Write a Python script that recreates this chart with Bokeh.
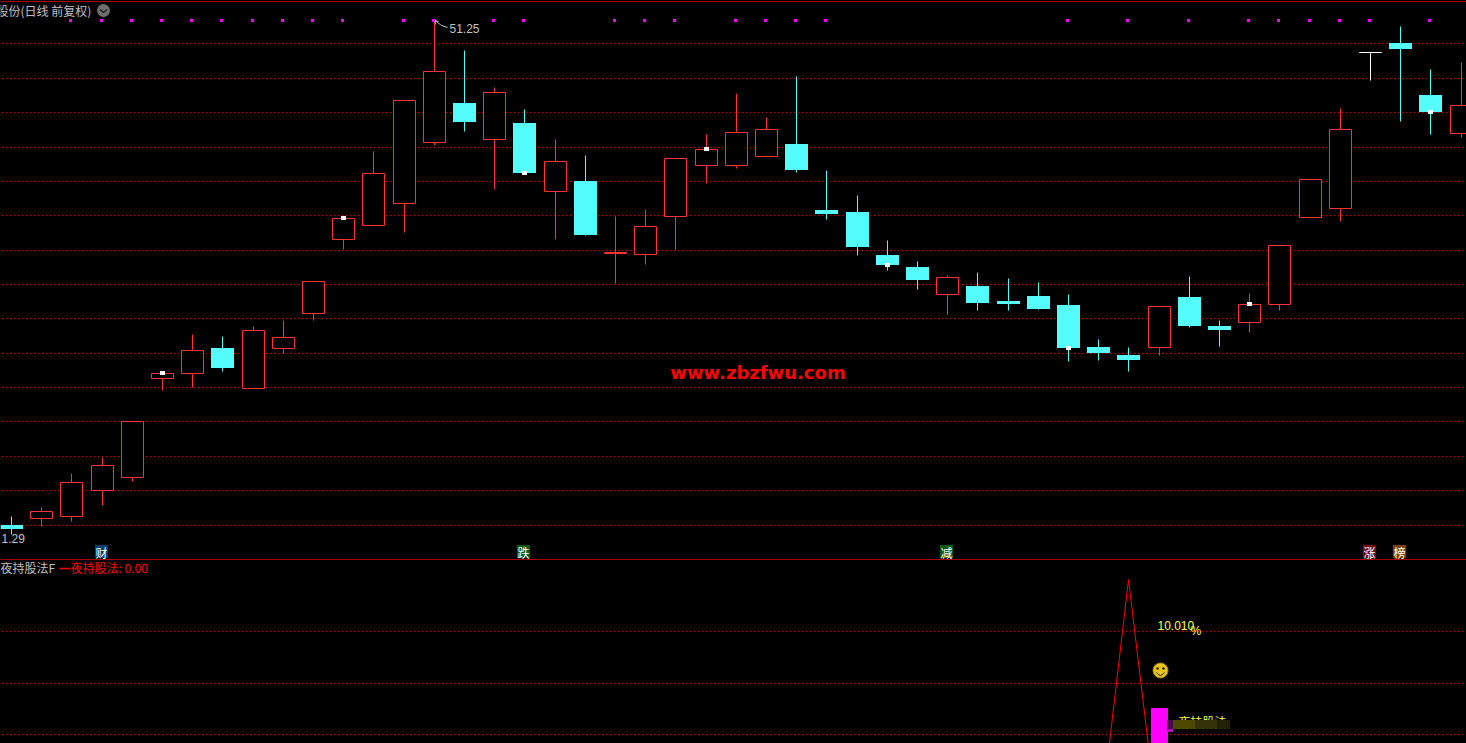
from math import floor
from bokeh.plotting import figure
from bokeh.layouts import column
from bokeh.models import Range1d
from bokeh.core.properties import value
from bokeh.embed import file_html
from bokeh.resources import INLINE

# ---- daily candles (price) ----
highs = [31.99,32.34,33.66,34.30,35.68,37.55,39.06,38.98,39.37,39.60,41.12,43.57,46.17,48.15,51.25,50.09,48.64,47.80,46.63,46.01,
         43.64,43.92,45.90,46.83,48.42,47.49,49.08,45.43,44.46,42.71,41.90,41.35,41.47,41.24,41.08,40.61,38.87,38.56,40.15,41.31,
         39.60,40.65,42.52,45.08,47.84,50.01,51.02,49.35,49.62]
lows = [31.29,31.61,31.81,32.42,33.36,36.90,37.01,37.64,36.96,38.33,39.62,42.36,43.29,43.03,46.40,46.96,44.69,45.31,42.75,42.91,
        41.04,41.78,42.36,44.92,45.52,45.97,45.35,43.53,42.13,41.55,40.81,39.84,39.99,39.99,40.03,38.01,38.05,37.62,38.25,39.33,
        38.60,39.14,39.99,43.60,43.45,48.92,47.33,46.83,46.71]
opens = [31.64,31.93,32.01,32.99,33.52,37.36,37.56,38.52,36.98,38.53,39.89,42.76,43.30,44.16,46.53,48.03,46.64,47.25,44.63,45.00,
         42.19,42.18,43.65,45.63,45.63,45.98,46.44,43.88,43.80,42.13,41.66,40.63,40.92,40.34,40.54,40.19,38.56,38.25,38.57,40.50,
         39.37,39.54,40.24,43.62,43.96,50.00,50.36,48.34,46.88]
closes = [31.49,32.17,33.30,33.96,35.67,37.54,38.43,37.74,39.20,38.93,41.11,43.55,45.30,48.14,49.26,47.29,48.45,45.31,45.77,42.91,
          42.23,43.24,45.88,46.23,46.89,47.01,45.43,43.72,42.44,41.74,41.16,41.26,40.26,40.23,40.03,38.52,38.32,38.05,40.14,39.37,
          39.22,40.21,42.51,45.07,47.01,50.00,50.13,47.68,47.95]
colors = ["c","r","r","r","r","r","r","c","r","r","r","r","r","r","r","c","r","c","r","c",
          "r","r","r","r","r","r","c","c","c","c","c","r","c","c","c","c","c","c","r","c",
          "c","r","r","r","r","w","c","c","r"]
signal_days = [2,3,4,5,6,7,8,9,10,11,13,14,16,17,20,21,22,24,25,26,27,35,37,39,41,42,43,44,45,47]
close_mark_days = [5,11,17,23,29,35,41,47]
grid_prices = [50.36,49.00,47.68,46.32,45.00,43.68,42.32,41.00,39.68,38.32,37.00,35.68,34.32,33.00,31.64]

event_days = [3,17,31,45,46]
event_labels = ["财","跌","减","涨","榜"]
event_colors = ["#0a3c6e","#0a5a14","#0a5a14","#780a0a","#7a4208"]

# ---- indicator panel ----
ind_days = [36,37,38]
ind_values = [0.0,10.01,0.0]
ind_grid = [8,6,4]
bar_day = 38
bar_value = 5.03

N = len(highs)
STEP, X0 = 30.2, 11.5
PTOP, PK = 52.03, 0.03883
BG = "#000000"; RED = "#ff3232"; CYAN = "#54fcfc"; GRID = "#c00000"; GREY = "#c0c0c0"
CJK = "Noto Sans CJK SC"; LAT = "Liberation Sans"

def ix(px): return (px - X0) / STEP
def py(px): return PTOP - PK * px
def by(px): return 8 + (631 - px) / 25.75
def cx(i): return ix(floor(X0 + STEP * i))            # whole pixel column of a day
def row(price): return floor((PTOP - price) / PK + 0.5)
def ry(price): return py(row(price))                  # whole pixel row of a price
def fy(price): return py(row(price) - 0.5)            # edge of a filled body
def brow(v): return by(floor(631 + (8 - v) * 25.75 + 0.5))

def fig(h, yr):
    f = figure(width=1466, height=h, x_range=Range1d(ix(0), ix(1466)), y_range=yr,
               x_axis_location=None, y_axis_location=None, toolbar_location=None,
               output_backend="svg", background_fill_color=BG, border_fill_color=BG,
               min_border=0, outline_line_color=None)
    f.grid.visible = False
    return f

def txt(f, x, y, s, color, font=LAT, size=12, style="normal", align="left"):
    f.text(x=[x], y=[y], text=[s], text_color=color, text_font=value(font), text_font_size=f"{size}px",
           text_font_style=style, text_baseline="middle", text_align=align)

# ======== price panel ========
p = fig(560, Range1d(py(560), py(0)))
for g in grid_prices:
    p.line([ix(1.5), ix(1466)], [ry(g), ry(g)], line_color=GRID, line_width=1, line_dash="1 3")
p.line([ix(0), ix(1466)], [py(1)]*2, line_color="#a80000", line_width=1)
p.line([ix(0), ix(1466)], [py(559)]*2, line_color="#a80000", line_width=1)

wick = {"r": RED, "c": CYAN, "w": "#ffffff"}
days = list(range(N))
xs = [cx(i) for i in days]
p.segment(xs, [ry(v) for v in highs], xs, [ry(v) for v in lows], line_color=[wick[c] for c in colors], line_width=1)
for c, fill, w, lw in [("r", BG, 22/STEP, 1), ("w", "#ffffff", 22/STEP, 1)]:
    ii = [i for i in days if colors[i] == c]
    p.vbar(x=[cx(i) for i in ii], width=w, top=[ry(max(opens[i], closes[i])) for i in ii],
           bottom=[ry(min(opens[i], closes[i])) for i in ii], fill_color=fill, line_color=wick[c], line_width=lw)
ii = [i for i in days if colors[i] == "c"]
p.vbar(x=[cx(i) for i in ii], width=23/STEP, top=[fy(opens[i]) for i in ii], bottom=[fy(closes[i]) for i in ii],
       fill_color=CYAN, line_color=None)
p.rect([cx(i) for i in close_mark_days], [py(row(closes[i]) - 0.5) for i in close_mark_days],
       width=5/STEP, height=4*PK, fill_color="#ffffff", line_color=None)
p.rect([cx(d) - 1/STEP for d in signal_days], [py(20)]*len(signal_days), width=3/STEP, height=3*PK,
       fill_color="#ff00ff", line_color=None)

# title
txt(p, ix(-4), py(10), "股份(日线 前复权)", GREY, CJK, 12)
p.scatter([ix(103)], [py(10)], size=13, marker="circle", fill_color="#6e6e6e", line_color=None)
p.line([ix(99.5), ix(103), ix(106.5)], [py(9), py(12), py(9)], line_color="#202020", line_width=1.5)

# extreme labels
p.line([ix(434.5), ix(441), ix(447)], [py(20), py(25), py(27)], line_color=GREY, line_width=1)
p.line([ix(434.5), ix(438)], [py(20), py(21)], line_color=GREY, line_width=1)
p.line([ix(434.5), ix(435)], [py(20), py(24)], line_color=GREY, line_width=1)
txt(p, ix(449), py(28), "51.25", GREY)
txt(p, ix(1), py(538), "1.29", GREY)
txt(p, ix(757.5), py(372), "www.zbzfwu.com", "#ff0000", "DejaVu Sans", 18, "bold", "center")

for d, s, c in zip(event_days, event_labels, event_colors):
    q0 = cx(d) - 1/STEP
    p.quad(left=[q0 - 6.5/STEP], right=[q0 + 6.5/STEP], top=[py(544.5)], bottom=[py(557.5)], fill_color=c, line_color=None)
    txt(p, q0, py(551.5), s, "#ffffff", CJK, 12, align="center")

# ======== indicator panel ========
q = fig(183, Range1d(by(743), by(560)))
for g in ind_grid:
    q.line([ix(1.5), ix(1466)], [brow(g)]*2, line_color=GRID, line_width=1, line_dash="1 3")
q.line([cx(d) for d in ind_days], ind_values, line_color="#ff0000", line_width=1)
q.vbar(x=[cx(bar_day)], width=17/STEP, bottom=[0], top=[bar_value], fill_color="#ff00ff", line_color=None)

txt(q, ix(0), by(567), "夜持股法F", GREY, CJK, 12)
q.line([ix(59), ix(70)], [by(568)]*2, line_color="#ff0000", line_width=1.5)
txt(q, ix(70), by(567), "夜持股法: 0.00", "#ff0000", CJK, 12)
txt(q, ix(1157), by(625), "10.010", "#ffff55")
txt(q, ix(1190), by(630), "%", "#ffff55")

# smiley
q.scatter([ix(1160)], [by(670)], size=15, marker="circle", fill_color="#e8c41c", line_color="#a88a10")
q.scatter([ix(1157), ix(1163)], [by(668)]*2, size=2.5, marker="circle", fill_color="#222222", line_color=None)
q.line([ix(1156), ix(1158), ix(1160), ix(1162), ix(1164)], [by(672), by(674), by(675), by(674), by(672)],
       line_color="#222222", line_width=1)

# overlapped label
txt(q, ix(1178), by(721), "夜持股法", "#ffff55", CJK, 12)
for x0, x1, y0, y1, c in [(1167, 1173, 720, 729, "#4a0a4a"), (1167, 1173, 729, 732, "#b010b0"),
                          (1173, 1195, 720, 729, "#4d4a00"), (1195, 1217, 720, 729, "#333208"),
                          (1217, 1230, 720, 729, "#222206")]:
    q.quad(left=[ix(x0 - .5)], right=[ix(x1 - .5)], top=[by(y0 - .5)], bottom=[by(y1 - .5)], fill_color=c, line_color=None)

page = column(p, q, spacing=0, styles={"position": "fixed", "left": "0", "top": "0", "background": BG})
open("out.html", "w").write(file_html(page, INLINE))
